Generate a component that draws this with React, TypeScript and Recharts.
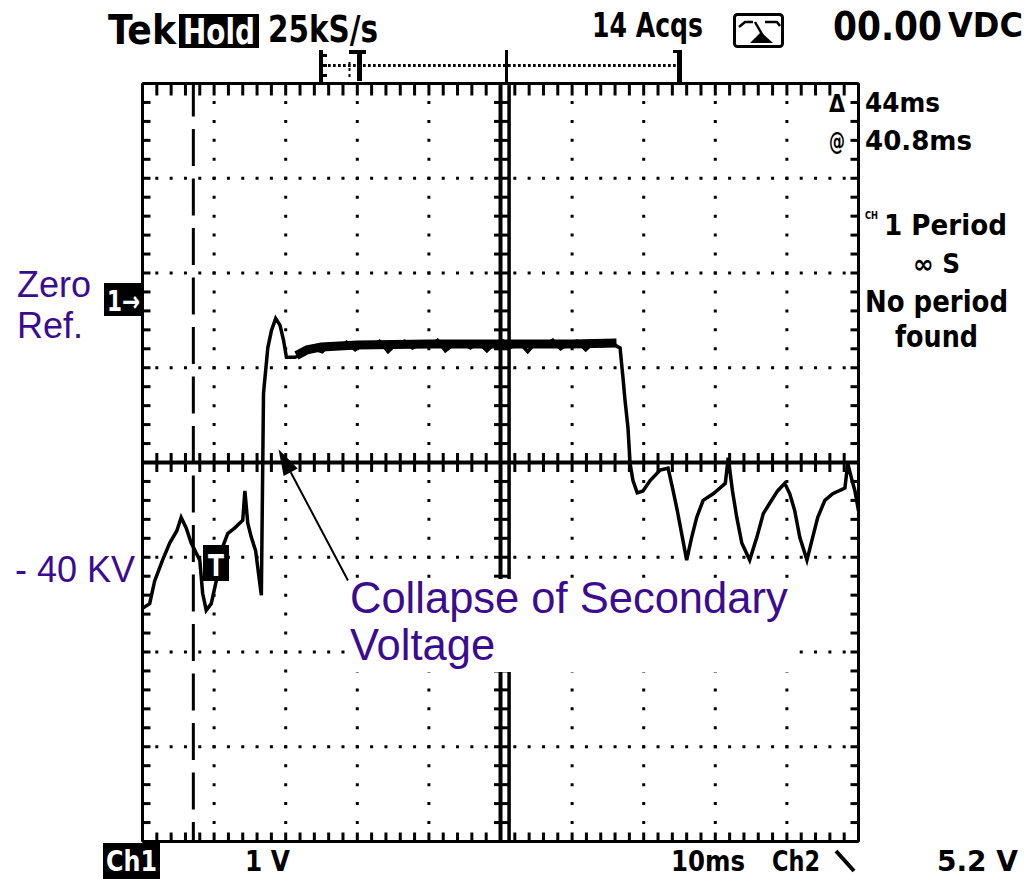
import { ComposedChart, Line, Scatter, XAxis, YAxis, ReferenceLine } from 'recharts';

const W = 1033;
const H = 879;
const INK = '#000';
const PURPLE = '#3b0c8f';
const SCOPE_FONT = '"DejaVu Sans Condensed", "DejaVu Sans", sans-serif';
const LABEL_FONT = '"Liberation Sans", Arial, sans-serif';

// Ch1 trace: time in ms (10 ms/div, 10 div), level in divisions from the centre line
const beforeCollapse: [number, number][] = [
  [0, -1.54], [1.0, -1.49], [1.7, -1.25], [2.8, -1.03], [3.8, -0.85], [4.8, -0.72],
  [5.4, -0.58], [6.1, -0.69], [6.8, -0.85], [8.0, -1.03], [8.4, -1.38], [8.9, -1.56],
  [9.6, -1.49], [10.3, -1.25], [11.0, -0.93], [11.9, -0.75], [12.9, -0.69], [14.0, -0.61],
  [14.3, -0.3], [14.7, -0.64], [15.2, -0.79], [15.8, -0.93], [16.2, -1.17], [16.6, -1.4],
  [16.9, 0.73], [17.5, 1.21], [18.0, 1.39], [18.6, 1.52], [19.2, 1.45], [19.7, 1.29],
  [20.1, 1.11],
];

const plateau: [number, number][] = [
  [21.3, 1.11], [22.6, 1.15], [23.9, 1.2], [25.1, 1.17], [26.2, 1.25], [27.4, 1.21],
  [28.5, 1.27], [29.7, 1.19], [30.8, 1.26], [32.0, 1.23], [33.1, 1.28], [34.3, 1.17],
  [35.4, 1.25], [36.6, 1.28], [37.7, 1.21], [38.9, 1.26], [40.0, 1.24], [41.2, 1.29],
  [42.3, 1.18], [43.5, 1.25], [44.6, 1.27], [45.8, 1.21], [46.9, 1.27], [48.1, 1.18],
  [49.2, 1.26], [50.4, 1.28], [51.5, 1.22], [52.7, 1.26], [53.8, 1.17], [55.0, 1.27],
  [56.1, 1.24], [57.3, 1.29], [58.4, 1.2], [59.6, 1.26], [60.7, 1.28], [61.9, 1.19],
  [63.0, 1.27], [64.2, 1.23], [65.3, 1.28], [66.4, 1.22],
];

const afterCollapse: [number, number][] = [
  [66.7, 1.21], [67.1, 0.9], [67.4, 0.65], [67.8, 0.37], [68.1, -0.01], [68.5, -0.19],
  [69.1, -0.32], [69.9, -0.3], [70.9, -0.19], [72.3, -0.08], [73.4, -0.06], [74.0, -0.26],
  [74.7, -0.51], [75.4, -0.79], [76.0, -1.03], [76.7, -0.79], [77.4, -0.58], [78.3, -0.4],
  [79.7, -0.33], [81.4, -0.22], [81.8, 0.05], [82.4, -0.3], [83.0, -0.58], [83.7, -0.85],
  [84.8, -1.03], [85.8, -0.79], [86.7, -0.54], [87.6, -0.43], [88.7, -0.3], [89.7, -0.22],
  [90.4, -0.33], [91.1, -0.51], [91.8, -0.79], [92.8, -1.03], [93.6, -0.79], [94.3, -0.58],
  [95.3, -0.4], [96.4, -0.33], [98.1, -0.27], [98.5, -0.01], [99.0, -0.16], [99.5, -0.3],
  [100, -0.51],
];

// thick noisy band of the overlaid acquisitions on the plateau
const plateauBand: [number, number][] = [
  [21.5, 1.13], [23.0, 1.19], [25.0, 1.22], [30.0, 1.24], [40.0, 1.25], [50.0, 1.25],
  [60.0, 1.25], [66.2, 1.26],
];

// graticule
const timeTicks = Array.from({ length: 51 }, (_, i) => i * 2);
const levelTicks = Array.from({ length: 41 }, (_, i) => Math.round((i * 0.2 - 4) * 10) / 10);
const timeDivs = [10, 20, 30, 40, 60, 70, 80, 90];
const levelDivs = [-3, -2, -1, 1, 2, 3];
const cursorTime = 7.1;
const secondCentreLine = 51.2;

// annotation arrow, tail then tip
const arrowSeg = [{ x: 28.7, y: -1.245 }, { x: 19.0, y: 0.14 }];

const AX = { stroke: INK, strokeWidth: 3 };

const HTick = (p: any) => <rect x={p.cx - 1.5} y={p.cy - 9.5} width={3} height={19} fill={INK} />;
const VTick = (p: any) => <rect x={p.cx - 6.5} y={p.cy - 1.5} width={16} height={3} fill={INK} />;
const BottomTick = (p: any) => <rect x={p.cx - 1.5} y={p.cy - 9} width={3} height={9} fill={INK} />;
const TopTick = (p: any) => <rect x={p.cx - 1.5} y={p.cy} width={3} height={12} fill={INK} />;
const LeftTick = (p: any) => <rect x={p.cx} y={p.cy - 1.5} width={8} height={3} fill={INK} />;
const RightTick = (p: any) => <rect x={p.cx - 8} y={p.cy - 1.5} width={8} height={3} fill={INK} />;

const Arrow = (p: any) => {
  const { x1, y1, x2, y2 } = p;
  const dx = x2 - x1;
  const dy = y2 - y1;
  const len = Math.sqrt(dx * dx + dy * dy) || 1;
  const ux = dx / len;
  const uy = dy / len;
  const bx = x2 - ux * 26;
  const by = y2 - uy * 26;
  const nx = -uy * 8;
  const ny = ux * 8;
  return (
    <g>
      <line x1={x1} y1={y1} x2={bx} y2={by} stroke={INK} strokeWidth={2} />
      <polygon points={`${x2},${y2} ${bx + nx},${by + ny} ${bx - nx},${by - ny}`} fill={INK} />
    </g>
  );
};

function ScopeText(props: any) {
  const { children, len, size, fill = INK, ...rest } = props;
  return (
    <text
      fontFamily={SCOPE_FONT}
      fontWeight="bold"
      fontSize={size}
      fill={fill}
      textLength={len}
      lengthAdjust="spacingAndGlyphs"
      {...rest}
    >
      {children}
    </text>
  );
}

export default function App() {
  const trace = [...beforeCollapse, ...plateau, ...afterCollapse].map(([t, v]) => ({ t, v }));
  const band = plateauBand.map(([t, v]) => ({ t, v }));
  const hTicks = timeTicks.map((t) => ({ t, v: 0 }));
  const vTicks = levelTicks.map((v) => ({ t: 50, v }));
  const bottomTicks = timeTicks.map((t) => ({ t, v: -4 }));
  const topTicks = timeTicks.map((t) => ({ t, v: 4 }));
  const leftTicks = levelTicks.map((v) => ({ t: 0, v }));
  const rightTicks = levelTicks.map((v) => ({ t: 100, v }));

  return (
    <div style={{ position: 'absolute', left: 0, top: 0, width: W, height: H, background: '#fff' }}>
      <ComposedChart width={W} height={H} margin={{ top: 83.5, right: 174.5, bottom: 37.5, left: 142.5 }}>
        <XAxis dataKey="t" type="number" domain={[0, 100]} ticks={timeTicks} interval={0}
          orientation="bottom" mirror tick={false} tickLine={false} axisLine={AX} height={10} />
        <XAxis xAxisId="top" dataKey="t" type="number" domain={[0, 100]} ticks={timeTicks} interval={0}
          orientation="top" mirror tick={false} tickLine={false} axisLine={AX} height={10} />
        <YAxis dataKey="v" type="number" domain={[-4, 4]} ticks={levelTicks} interval={0}
          orientation="left" mirror tick={false} tickLine={false} axisLine={AX} width={10} />
        <YAxis yAxisId="right" dataKey="v" type="number" domain={[-4, 4]} ticks={levelTicks} interval={0}
          orientation="right" mirror tick={false} tickLine={false} axisLine={AX} width={10} />

        {levelDivs.map((v) => (
          <ReferenceLine key={`h${v}`} y={v} stroke={INK} strokeWidth={3}
            strokeDasharray="3 11.32" strokeDashoffset={1.5} />
        ))}
        {timeDivs.map((t) => (
          <ReferenceLine key={`v${t}`} x={t} stroke={INK} strokeWidth={3}
            strokeDasharray="3 15.95" strokeDashoffset={1.5} />
        ))}
        <ReferenceLine x={cursorTime} stroke={INK} strokeWidth={3} strokeDasharray="37 12.5" strokeDashoffset={17.5} />
        <ReferenceLine y={0} stroke={INK} strokeWidth={4} />
        <ReferenceLine x={50} stroke={INK} strokeWidth={4} />
        <ReferenceLine x={secondCentreLine} stroke={INK} strokeWidth={3.5} />

        <Scatter data={hTicks} shape={HTick} isAnimationActive={false} />
        <Scatter data={vTicks} shape={VTick} isAnimationActive={false} />
        <Scatter data={bottomTicks} shape={BottomTick} isAnimationActive={false} />
        <Scatter data={topTicks} shape={TopTick} isAnimationActive={false} />
        <Scatter data={leftTicks} shape={LeftTick} isAnimationActive={false} />
        <Scatter data={rightTicks} shape={RightTick} isAnimationActive={false} />

        <Line data={band} dataKey="v" type="linear" stroke={INK} strokeWidth={9} dot={false}
          activeDot={false} isAnimationActive={false} />
        <Line data={trace} dataKey="v" type="linear" stroke={INK} strokeWidth={3.5} dot={false}
          activeDot={false} isAnimationActive={false} />

        <ReferenceLine segment={arrowSeg} shape={Arrow} />
      </ComposedChart>

      <svg width={W} height={H} style={{ position: 'absolute', left: 0, top: 0, pointerEvents: 'none' }}>
        {/* header */}
        <ScopeText x={108} y={44} size={40} len={68}>Tek</ScopeText>
        <rect x={179} y={14} width={80} height={34} fill={INK} />
        <ScopeText x={183} y={44} size={36} len={72} fill="#fff">Hold</ScopeText>
        <ScopeText x={268} y={42} size={38} len={110}>25kS/s</ScopeText>
        <ScopeText x={592} y={37} size={33} len={111}>14 Acqs</ScopeText>
        <rect x={734.5} y={14.5} width={48} height={32} rx={3} fill="none" stroke={INK} strokeWidth={3} />
        <polyline points="739,27 745,22 753,22" fill="none" stroke={INK} strokeWidth={2.5} />
        <polyline points="755,22 763,36" fill="none" stroke={INK} strokeWidth={2.5} />
        <polygon points="750,43 761,32 773,43" fill={INK} />
        <polyline points="765,22 777,22 780,26" fill="none" stroke={INK} strokeWidth={2.5} />
        <ScopeText x={833} y={40} size={39} len={109}>00.00</ScopeText>
        <ScopeText x={948} y={37} size={33} len={75}>VDC</ScopeText>

        {/* record view */}
        <rect x={319} y={50} width={4} height={33} fill={INK} />
        <rect x={323} y={54} width={4} height={3} fill={INK} />
        <rect x={323} y={64} width={4} height={3} fill={INK} />
        <rect x={323} y={74} width={4} height={3} fill={INK} />
        <line x1={328} y1={65.5} x2={676} y2={65.5} stroke={INK} strokeWidth={3} strokeDasharray="2.7 2.3" />
        <rect x={349} y={50} width={17} height={4} fill={INK} />
        <rect x={357} y={50} width={5} height={31} fill={INK} />
        <line x1={349.5} y1={62} x2={349.5} y2={78} stroke={INK} strokeWidth={2} strokeDasharray="3 3" />
        <rect x={505} y={50} width={3} height={34} fill={INK} />
        <rect x={677} y={50} width={5} height={34} fill={INK} />
        <rect x={673} y={50} width={5} height={3} fill={INK} />

        {/* right readouts */}
        <ScopeText x={829} y={112} size={24} len={16}>Δ</ScopeText>
        <ScopeText x={865} y={112} size={27} len={75}>44ms</ScopeText>
        <ScopeText x={829} y={150} size={24} len={16}>@</ScopeText>
        <ScopeText x={865} y={150} size={27} len={107}>40.8ms</ScopeText>
        <ScopeText x={865} y={219} size={11} len={13}>CH</ScopeText>
        <ScopeText x={884} y={235} size={29} len={123}>1 Period</ScopeText>
        <ScopeText x={913} y={273} size={26} len={47}>∞ S</ScopeText>
        <ScopeText x={865} y={312} size={31} len={143}>No period</ScopeText>
        <ScopeText x={895} y={347} size={31} len={83}>found</ScopeText>

        {/* footer */}
        <rect x={103} y={843} width={57} height={36} fill={INK} />
        <ScopeText x={106} y={871} size={29} len={51} fill="#fff">Ch1</ScopeText>
        <ScopeText x={245} y={871} size={29} len={45}>1 V</ScopeText>
        <ScopeText x={671} y={871} size={29} len={74}>10ms</ScopeText>
        <ScopeText x={772} y={871} size={29} len={48}>Ch2</ScopeText>
        <line x1={836} y1={851} x2={854} y2={871} stroke={INK} strokeWidth={4} />
        <ScopeText x={937} y={871} size={29} len={81}>5.2 V</ScopeText>

        {/* channel and trigger markers */}
        <rect x={104} y={283} width={39} height={33} fill={INK} />
        <ScopeText x={107} y={311} size={28} len={33} fill="#fff">1→</ScopeText>
        <rect x={203} y={545} width={26} height={36} fill={INK} />
        <ScopeText x={208} y={576} size={30} len={16} fill="#fff">T</ScopeText>

        {/* annotations */}
        <text x={17} y={297} fontFamily={LABEL_FONT} fontSize={36} fill={PURPLE}>Zero</text>
        <text x={17} y={338} fontFamily={LABEL_FONT} fontSize={36} fill={PURPLE}>Ref.</text>
        <text x={15} y={582} fontFamily={LABEL_FONT} fontSize={36} fill={PURPLE}>- 40 KV</text>
        <rect x={353} y={579} width={437} height={93} fill="#fff" />
        <text x={350} y={613} fontFamily={LABEL_FONT} fontSize={43.5} fill={PURPLE}>Collapse of Secondary</text>
        <text x={350} y={660} fontFamily={LABEL_FONT} fontSize={43.5} fill={PURPLE}>Voltage</text>
      </svg>
    </div>
  );
}
